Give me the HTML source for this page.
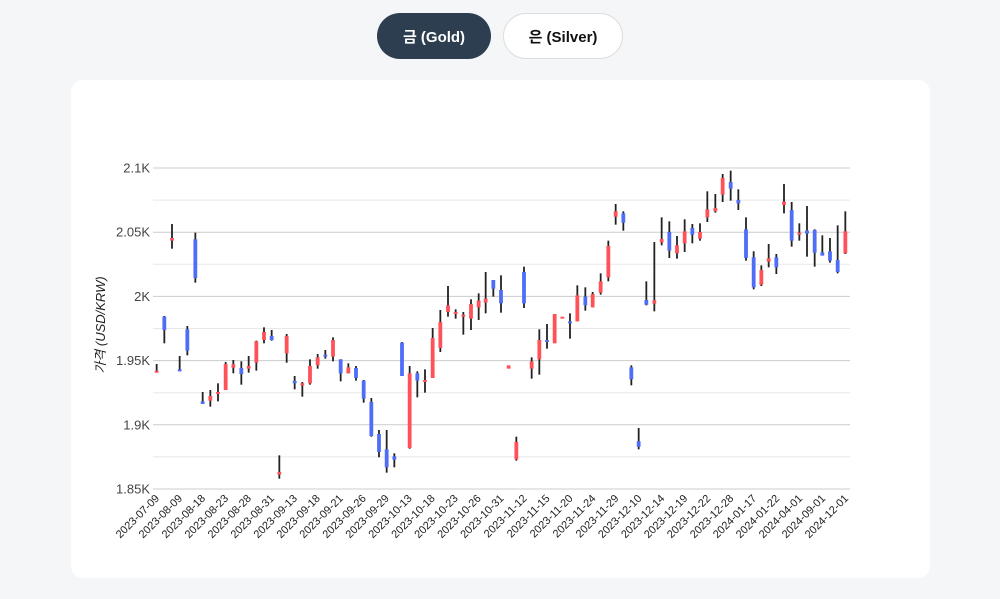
<!DOCTYPE html>
<html><head><meta charset="utf-8"><style>
html,body{margin:0;padding:0;width:1000px;height:599px;background:#f5f6f8;overflow:hidden;font-family:"Liberation Sans","Noto Sans CJK KR",sans-serif}
.btn{position:absolute;top:13px;height:46px;border-radius:23px;box-sizing:border-box;font-weight:bold;font-size:15px;display:flex;align-items:center;justify-content:center}
#card{position:absolute;left:71px;top:80px;width:859px;height:498px;background:#fff;border-radius:12px}
</style></head><body>
<div class="btn" style="left:377px;width:114px;background:#2c3e50;color:#fff">금 (Gold)</div>
<div class="btn" style="left:503px;width:120px;background:#fff;color:#111;border:1px solid #ddd">은 (Silver)</div>
<div id="card"></div>
<svg id="s" width="1000" height="599" style="position:absolute;left:0;top:0" font-family="Liberation Sans, Noto Sans CJK KR, sans-serif"></svg>
<script>
var s=document.getElementById('s'),h='';
for(var i=0;i<=10;i++){var y=168+i*32.1;h+='<line x1="153" x2="850" y1="'+y+'" y2="'+y+'" stroke="'+(i%2?'#e8e8e8':'#ccc')+'" stroke-width="1"/>';}
var yl=['2.1K','2.05K','2K','1.95K','1.9K','1.85K'];
for(var i=0;i<6;i++)h+='<text x="150" y="'+(168+i*64.2+4.5)+'" text-anchor="end" font-size="13" fill="#444">'+yl[i]+'</text>';
h+='<text transform="translate(105,325) rotate(-90)" text-anchor="middle" font-size="13" font-style="italic" fill="#222">가격 (USD/KRW)</text>';
var A=[[170,642,668,662,668,1],[193,498,580,500,540,0],[216,222,296,264,272,1],[239,618,664,658,664,0],[262,528,616,538,602,0],[286,248,398,268,384,0],[308,726,762,754,762,0],[331,720,770,738,752,1],[354,700,754,726,732,1],[377,636,720,642,720,1],[400,630,670,646,650,1],[424,634,704,654,672,0],[446,618,668,648,656,1],[469,572,662,574,638,1],[492,532,580,546,570,1],[515,540,572,558,570,0],[538,916,986,966,974,1],[560,552,638,558,610,1],[584,678,718,692,700,0],[607,696,740,700,706,1],[630,628,704,648,700,1],[653,612,656,622,646,1],[676,600,626,614,620,0],[699,562,634,570,620,1],[722,628,694,628,670,0],[745,640,670,652,670,1],[768,648,692,654,684,0],[791,690,758,692,746,0],[814,744,860,756,858,0],[837,840,922,852,906,0],[860,840,968,898,952,0],[883,910,952,922,926,0],[906,576,678,578,678,0],[929,648,896,670,894,1],[952,664,742,670,692,0],[975,658,728,690,696,1],[998,534,684,564,684,1],[1021,480,606,516,594,1],[1044,408,500,466,486,1],[1067,478,506,486,492,1],[1090,486,554,494,500,1],[1113,448,540,462,506,1],[1136,430,510,452,472,1]];
var B=[[47,366,490,446,458,1],[70,390,440,390,416,0],[93,376,488,420,460,0],[116,646,656,646,656,1],[139,860,932,876,928,1],[162,350,474,366,460,0],[185,622,686,634,656,1],[208,538,674,570,628,1],[231,522,596,570,576,0],[254,492,580,492,580,1],[277,500,506,500,506,1],[300,490,566,514,520,0],[322,406,514,436,514,1],[346,412,482,440,466,0],[368,426,472,432,472,1],[392,370,434,394,428,1],[415,272,394,288,382,1],[437,162,224,184,200,1],[460,184,242,190,218,0],[484,646,706,652,688,0],[506,834,898,874,890,0],[529,394,466,450,464,0],[553,276,484,454,458,1],[575,202,286,270,274,1],[598,214,324,246,302,0],[621,258,326,286,310,1],[644,208,306,244,280,1],[667,222,280,234,254,0],[690,220,272,246,266,1],[712,124,216,178,202,1],[736,132,188,174,184,1],[758,72,156,84,134,1],[782,62,152,96,116,0],[805,118,180,150,160,0],[828,202,332,238,324,0],[851,304,418,322,412,0],[874,346,408,360,404,1],[896,282,352,328,332,1],[919,312,372,322,352,0],[942,102,190,158,162,1],[965,156,290,180,272,0],[988,220,272,248,254,1],[1011,168,320,244,248,0],[1034,238,350,240,308,0],[1057,256,314,310,314,0],[1080,264,338,304,332,0],[1103,226,370,330,366,0],[1126,184,312,244,310,1]];
function draw(L,ox){L.forEach(function(c){var x=ox+c[0]/3,wt=150+c[1]/3,wb=150+c[2]/3,bt=150+c[3]/3,bb=150+c[4]/3;
if(bb-bt<2){bt-=1;bb+=1;}
if(c[2]-c[1]>c[4]-c[3]+1)h+='<rect x="'+(x-0.9)+'" y="'+wt+'" width="1.8" height="'+(wb-wt)+'" fill="#222"/>';
h+='<rect x="'+(x-1.9)+'" y="'+bt+'" width="3.8" height="'+(bb-bt)+'" fill="'+(c[5]?'#ff5258':'#4f6ef7')+'"/>';});}
draw(A,100);draw(B,470);
var lb=['2023-07-09','2023-08-09','2023-08-18','2023-08-23','2023-08-28','2023-08-31','2023-09-13','2023-09-18','2023-09-21','2023-09-26','2023-09-29','2023-10-13','2023-10-18','2023-10-23','2023-10-26','2023-10-31','2023-11-12','2023-11-15','2023-11-20','2023-11-24','2023-11-29','2023-12-10','2023-12-14','2023-12-19','2023-12-22','2023-12-28','2024-01-17','2024-01-22','2024-04-01','2024-09-01','2024-12-01'];
for(var i=0;i<lb.length;i++){var x=157+i*(846-157)/30;h+='<text transform="translate('+(x+3)+',499) rotate(-45)" text-anchor="end" font-size="11" fill="#222">'+lb[i]+'</text>';}
s.innerHTML=h;
</script>
</body></html>
